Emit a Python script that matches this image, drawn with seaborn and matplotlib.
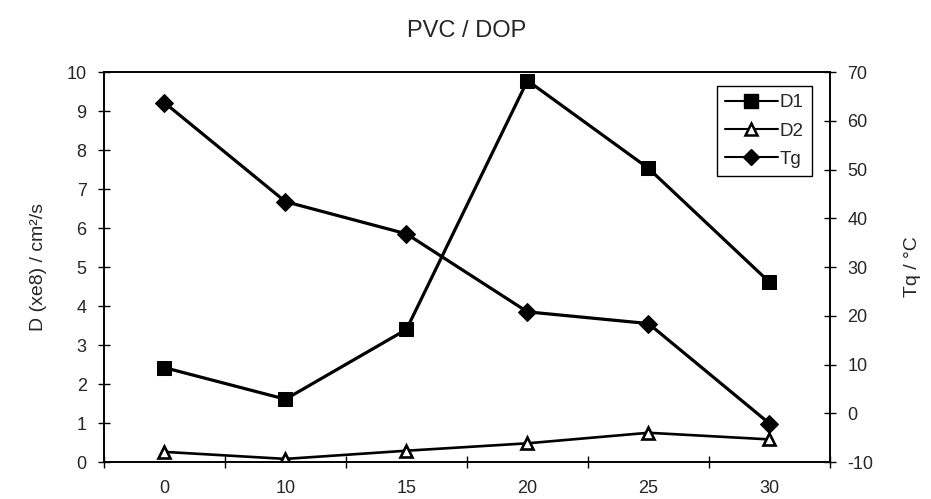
import matplotlib
matplotlib.use("Agg")
import matplotlib.pyplot as plt
from matplotlib.lines import Line2D
import seaborn as sns
import pandas as pd

# DOP content categories
dop = ["0", "10", "15", "20", "25", "30"]
# diffusion coefficients (x 1e-8 cm^2/s)
d1 = [2.42, 1.61, 3.40, 9.78, 7.53, 4.61]
d2 = [0.26, 0.08, 0.29, 0.48, 0.75, 0.58]
# glass transition temperature (°C)
tg = [63.7, 43.4, 36.8, 20.8, 18.4, -2.1]

sns.set_style("white")
plt.rcParams["font.family"] = ["Liberation Sans", "DejaVu Sans"]
plt.rcParams["axes.unicode_minus"] = False

df = pd.DataFrame({"DOP": dop, "D1": d1, "D2": d2, "Tg": tg})

fig = plt.figure(figsize=(9.31, 4.99), dpi=100)
ax = fig.add_axes([0.1117, 0.0741, 0.7798, 0.7816])
ax2 = ax.twinx()

sns.lineplot(data=df, x="DOP", y="D1", ax=ax, color="black", lw=2.3,
             marker="s", markersize=10.5, markeredgecolor="black",
             markerfacecolor="black", sort=False)
sns.lineplot(data=df, x="DOP", y="D2", ax=ax, color="black", lw=1.9,
             marker="^", markersize=9, markeredgecolor="black",
             markeredgewidth=1.9, markerfacecolor="white", sort=False)
sns.lineplot(data=df, x="DOP", y="Tg", ax=ax2, color="black", lw=2.3,
             marker="D", markersize=9, markeredgecolor="black",
             markerfacecolor="black", sort=False)

ax.set_xlim(-0.5, 5.5)
ax.set_ylim(0, 10)
ax2.set_ylim(-10, 70)
ax.set_yticks(range(0, 11))
ax2.set_yticks(range(-10, 71, 10))
ax.set_xticks(range(len(dop)))
ax.set_xticklabels(dop)
ax.set_xticks([i - 0.5 for i in range(len(dop) + 1)], minor=True)

for a in (ax, ax2):
    for s in a.spines.values():
        s.set_color("black")
        s.set_linewidth(1.2)

ax.tick_params(axis="x", which="major", length=0, pad=13, labelsize=13)
ax.tick_params(axis="x", which="minor", direction="inout", length=9,
               width=1.0, bottom=True, color="black")
ax.tick_params(axis="y", direction="inout", length=9, width=1.0,
               color="black", pad=8, labelsize=13, left=True)
ax2.tick_params(axis="y", direction="inout", length=9, width=1.0,
                color="black", pad=8, labelsize=13, right=True)

ax.set_xlabel("")
ax.set_ylabel("D (xe8) / cm²/s", fontsize=14, labelpad=14)
ax2.set_ylabel("Tq / °C", fontsize=14, labelpad=22)
ax.set_title("PVC / DOP", fontsize=17, pad=25)

handles = [
    Line2D([], [], color="black", lw=1.5, marker="s", markersize=10,
           markerfacecolor="black", markeredgecolor="black"),
    Line2D([], [], color="black", lw=1.5, marker="^", markersize=9,
           markerfacecolor="white", markeredgecolor="black", markeredgewidth=1.8),
    Line2D([], [], color="black", lw=1.5, marker="D", markersize=8,
           markerfacecolor="black", markeredgecolor="black"),
]
leg = ax2.legend(handles, ["D1", "D2", "Tg"], loc="upper right",
                 bbox_to_anchor=(0.975, 0.965), fontsize=13.5, frameon=True,
                 fancybox=False, edgecolor="black", framealpha=1,
                 handlelength=2.8, handletextpad=0.1, borderpad=0.45,
                 labelspacing=0.6, borderaxespad=0)
leg.get_frame().set_linewidth(1.0)

fig.savefig("out.png", dpi=100, facecolor="white")
